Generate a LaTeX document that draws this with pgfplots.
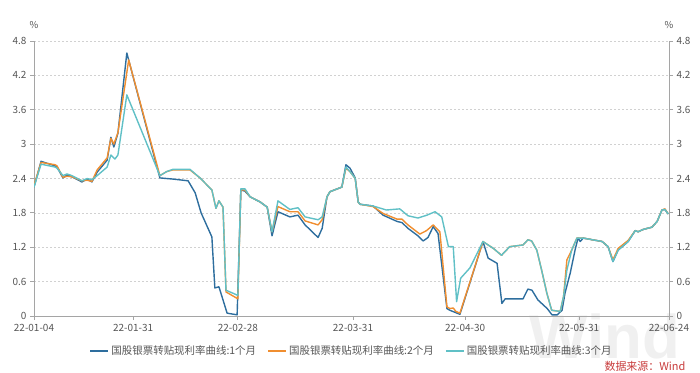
\documentclass[border=0pt]{standalone}
\usepackage{pgfplots}
\pgfplotsset{compat=1.18}
\usepackage{fontspec}
\setmainfont{Noto Sans CJK SC}
\newfontfamily\wmfont{Liberation Sans}
\definecolor{c1}{RGB}{46,110,158}
\definecolor{c2}{RGB}{240,142,48}
\definecolor{c3}{RGB}{96,192,198}
\definecolor{axgray}{RGB}{165,165,165}
\definecolor{src}{RGB}{200,60,60}
\definecolor{lbl}{RGB}{85,85,85}
\begin{document}
\begin{tikzpicture}
\node[text=black!6, font=\wmfont\bfseries\fontsize{62}{64}\selectfont, anchor=center] at (571bp,-20bp) {Wind};
\pgfplotsset{
  common/.style={
    at={(0,0)}, anchor=south west, scale only axis,
    width=635bp, height=275bp,
    xmin=0, xmax=171, ymin=0, ymax=4.8,
    ytick={0,0.6,1.2,1.8,2.4,3,3.6,4.2,4.8},
    yticklabels={0,0.6,1.2,1.8,2.4,3,3.6,4.2,4.8},
    axis line style={axgray, line width=1bp},
    tick style={axgray, line width=0.8bp},
    major tick length=4bp, tick align=outside,
    ticklabel style={font=\fontsize{10}{12}\selectfont, text=lbl},
    /pgf/number format/assume math mode=true,
  }
}
\begin{axis}[common, name=ax,
    xtick={0,26.7,54.9,85.9,116.1,146.8,171},
    xticklabels={22-01-04,22-01-31,22-02-28,22-03-31,22-04-30,22-05-31,22-06-24},
    axis x line*=bottom, axis y line*=left,
    ymajorgrids, grid style={dash pattern=on 2bp off 2bp, color=black!18, line width=0.6bp},
    xticklabel style={yshift=-1bp},
    legend style={at={(0.5,-0.127)}, anchor=center, draw=none, fill=none,
      font=\fontsize{10.5}{12}\selectfont, text=lbl, legend columns=3,
      /tikz/every even column/.append style={column sep=9bp}},
    legend image code/.code={\draw[#1, line width=2bp] (0,0) -- (18bp,0);},
    every axis plot/.append style={line width=1.4bp, line join=round},
  ]
\addplot[c1, mark=none] coordinates {(0,2.25)(1.9,2.70)(5.7,2.62)(6.2,2.60)(7.8,2.41)(8.9,2.46)(10.2,2.43)(12.9,2.34)(14.3,2.39)(15.6,2.34)(17.0,2.51)(19.7,2.72)(20.7,3.12)(21.5,2.95)(22.6,3.19)(25.0,4.59)(33.9,2.41)(37.4,2.39)(41.5,2.36)(43.4,2.15)(45.0,1.80)(47.9,1.38)(48.7,0.49)(49.8,0.51)(52.0,0.05)(54.7,0.02)(55.7,2.20)(56.8,2.18)(58.2,2.08)(60.9,1.99)(62.8,1.90)(64.1,1.40)(65.7,1.82)(68.9,1.73)(71.1,1.76)(73.0,1.59)(76.5,1.37)(77.6,1.53)(78.9,2.08)(79.7,2.17)(82.9,2.25)(84.0,2.64)(85.1,2.58)(86.5,2.41)(87.3,1.99)(87.8,1.95)(91.3,1.92)(94.0,1.76)(97.8,1.65)(99.1,1.63)(100.7,1.53)(103.4,1.40)(104.8,1.31)(106.1,1.37)(107.5,1.56)(108.8,1.44)(111.2,0.13)(112.0,0.10)(113.9,0.05)(114.7,0.03)(120.9,1.30)(122.3,1.01)(124.7,0.92)(126.0,0.22)(126.9,0.30)(131.7,0.30)(133.0,0.47)(134.1,0.45)(135.7,0.28)(138.2,0.13)(139.5,0.02)(140.9,0.02)(142.2,0.10)(143.0,0.40)(144.4,0.75)(145.7,1.15)(146.5,1.36)(147.1,1.30)(147.9,1.36)(153.0,1.30)(154.6,1.21)(155.9,0.95)(157.3,1.15)(160.0,1.30)(161.9,1.49)(162.7,1.47)(164.0,1.51)(166.4,1.55)(167.8,1.65)(169.1,1.85)(169.9,1.86)(170.8,1.78)};
\addlegendentry{国股银票转贴现利率曲线:1个月}
\addplot[c2, mark=none] coordinates {(0,2.28)(1.9,2.68)(5.7,2.64)(6.2,2.62)(7.8,2.42)(8.9,2.44)(10.2,2.43)(12.9,2.36)(14.3,2.37)(15.6,2.35)(17.0,2.55)(19.7,2.76)(20.7,3.10)(21.5,3.00)(22.6,3.20)(25.5,4.47)(33.9,2.45)(35.7,2.52)(37.4,2.55)(42.0,2.55)(44.7,2.41)(47.9,2.20)(49.0,1.88)(49.8,2.01)(50.9,1.90)(51.7,0.42)(54.9,0.30)(55.7,2.20)(56.8,2.20)(58.2,2.08)(60.9,1.99)(62.8,1.90)(64.1,1.47)(65.7,1.91)(68.9,1.82)(71.1,1.82)(73.0,1.66)(76.5,1.59)(77.6,1.68)(78.9,2.08)(79.7,2.17)(82.9,2.25)(84.0,2.58)(85.1,2.52)(86.5,2.40)(87.3,1.99)(87.8,1.95)(91.3,1.91)(94.0,1.79)(97.8,1.69)(99.1,1.69)(100.7,1.59)(103.9,1.43)(105.7,1.49)(107.5,1.59)(109.3,1.47)(111.2,0.16)(112.0,0.13)(112.9,0.14)(113.6,0.08)(114.7,0.05)(120.9,1.30)(123.7,1.18)(125.9,1.06)(128.1,1.21)(131.7,1.24)(133.0,1.33)(134.0,1.31)(135.4,1.15)(136.7,0.80)(138.1,0.40)(139.4,0.10)(141.7,0.08)(142.6,0.34)(143.5,0.98)(144.8,1.15)(146.2,1.36)(147.9,1.36)(153.0,1.30)(154.6,1.21)(155.9,0.98)(157.3,1.18)(160.0,1.32)(161.9,1.49)(162.7,1.47)(164.0,1.51)(166.4,1.55)(167.8,1.65)(169.1,1.85)(169.9,1.87)(170.8,1.78)};
\addlegendentry{国股银票转贴现利率曲线:2个月}
\addplot[c3, mark=none] coordinates {(0,2.25)(1.9,2.65)(5.7,2.60)(6.2,2.58)(7.8,2.45)(8.9,2.48)(10.2,2.45)(12.9,2.36)(14.3,2.40)(15.6,2.38)(17.0,2.45)(19.7,2.60)(20.7,2.81)(21.8,2.74)(22.6,2.81)(25.0,3.86)(33.9,2.45)(35.7,2.52)(37.4,2.56)(42.0,2.56)(44.7,2.41)(47.9,2.20)(49.0,1.88)(49.8,2.01)(50.9,1.90)(51.7,0.45)(54.9,0.36)(55.7,2.22)(56.8,2.22)(58.2,2.08)(60.9,1.99)(62.8,1.90)(64.1,1.47)(65.7,2.01)(68.9,1.86)(71.1,1.89)(73.0,1.73)(76.5,1.68)(77.6,1.73)(78.9,2.08)(79.7,2.17)(82.9,2.25)(84.0,2.60)(85.1,2.52)(86.5,2.40)(87.3,1.99)(87.8,1.95)(91.3,1.92)(94.9,1.85)(98.5,1.87)(100.7,1.75)(103.4,1.71)(105.8,1.76)(108.0,1.82)(109.8,1.73)(111.6,1.21)(112.9,1.21)(113.8,0.25)(114.9,0.66)(117.4,0.84)(120.9,1.30)(123.7,1.18)(125.9,1.06)(128.1,1.21)(131.7,1.24)(133.0,1.33)(134.0,1.31)(135.4,1.15)(136.7,0.80)(138.1,0.40)(139.4,0.10)(141.7,0.08)(142.6,0.34)(143.5,0.80)(144.8,1.15)(146.2,1.36)(147.9,1.36)(153.0,1.30)(154.6,1.21)(155.9,0.95)(157.3,1.15)(160.0,1.30)(161.9,1.49)(162.7,1.47)(164.0,1.51)(166.4,1.55)(167.8,1.65)(169.1,1.85)(169.9,1.86)(170.8,1.78)};
\addlegendentry{国股银票转贴现利率曲线:3个月}
\end{axis}
\begin{axis}[common,
    axis x line=none, axis y line*=right,
  ]
\addplot[draw=none] coordinates {(0,0)(171,4.8)};
\end{axis}
\node[text=lbl, font=\fontsize{9.5}{11}\selectfont] at ([yshift=16bp]ax.north west) {\%};
\node[text=lbl, font=\fontsize{9.5}{11}\selectfont] at ([yshift=16bp]ax.north east) {\%};
\node[text=src, font=\fontsize{11}{13}\selectfont] at ([xshift=611bp,yshift=-50bp]ax.south west) {数据来源：Wind};
\pgfresetboundingbox
\path ([xshift=-34bp,yshift=-57bp]ax.south west) rectangle ([xshift=31bp,yshift=41bp]ax.north east);
\end{tikzpicture}
\end{document}
